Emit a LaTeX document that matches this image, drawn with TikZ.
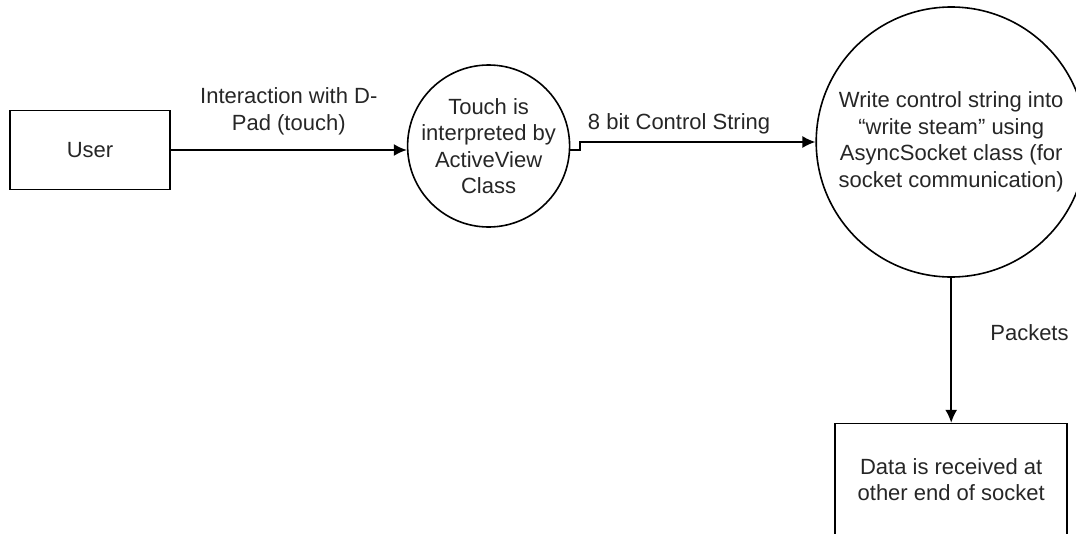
\documentclass[tikz,border=0pt]{standalone}
\usepackage{fontspec}
\setmainfont{Liberation Sans}
\usetikzlibrary{positioning,arrows.meta}

\begin{document}
\begin{tikzpicture}
        [
            x = 1pt, y = -1pt,
            boxed/.style   = {shape=rectangle, draw},
            bubble/.style  = {shape=circle, draw, inner sep=-10pt},
            flow/.style    = {draw, -{Latex[length=13pt, width=12pt]}},
            every node/.style = {font=\fontsize{22}{26.5}\selectfont, text=black!85, align=center},
            line width = 1.6pt,
        ]
        \useasboundingbox (0,0) rectangle (1076,533);

        % the chain of processes
        \node [boxed, minimum width=160pt, minimum height=79pt] (user) at (90,150) {User};
        \node [bubble, minimum size=162pt, right=236pt of user, yshift=4pt] (touch)
            {Touch is\\interpreted by\\ActiveView\\Class};
        \node [bubble, minimum size=270pt, right=245pt of touch, yshift=4pt] (write)
            {Write control string into\\“write steam” using\\AsyncSocket class (for\\socket communication)};
        \node [boxed, minimum width=232pt, minimum height=112pt, below=145pt of write] (data)
            {Data is received at\\other end of socket};

        % data flows
        \draw [flow] (user.east) -- (user.east -| touch.west)
            node [midway, above=11pt] {Interaction with D-\\Pad (touch)};
        \draw [flow] (touch.-3) -- ++(10,0) |- (write.west)
            node [pos=0.71, above=4pt] {8 bit Control String};
        \draw [flow] (write) -- (data)
            node [pos=0.38, right=35pt] {Packets};
    \end{tikzpicture}
\end{document}
